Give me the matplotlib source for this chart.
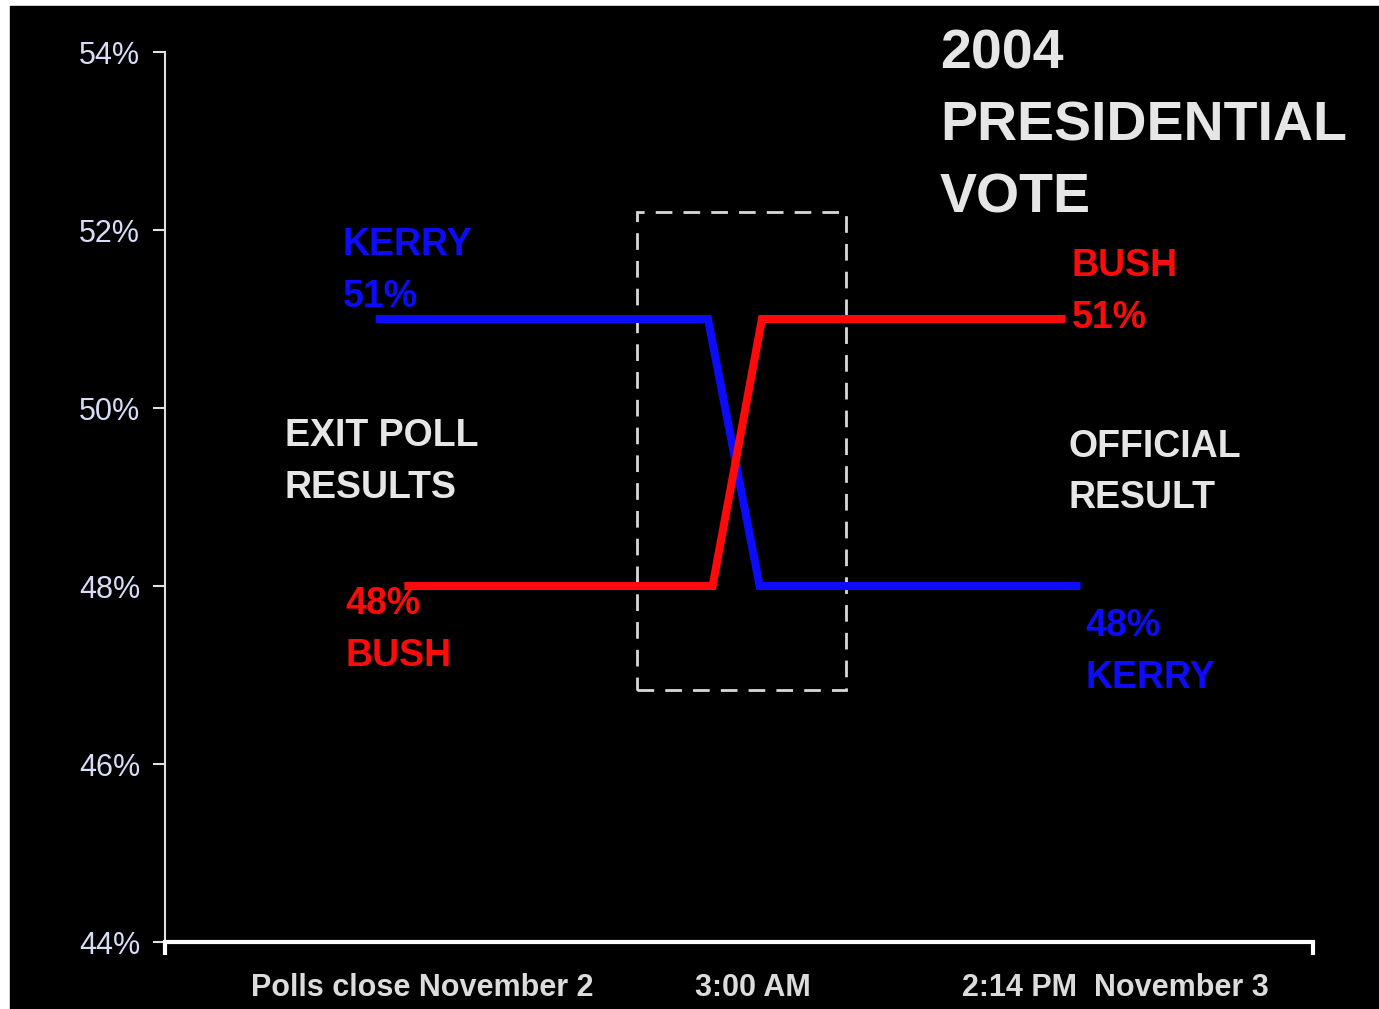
import matplotlib
matplotlib.use("Agg")
import matplotlib.pyplot as plt
from matplotlib.patches import Rectangle

plt.rcParams['font.family'] = ['Liberation Sans', 'DejaVu Sans']

# time axis: 0 = polls close, 100 = right end of the axis (arbitrary units)
kerry_x = [18.7, 47.3, 51.8, 79.4]
kerry_y = [51, 51, 48, 48]
bush_x = [21.2, 47.7, 52.0, 78.1]
bush_y = [48, 48, 51, 51]

yticks = [44, 46, 48, 50, 52, 54]
xlabel_pos = [22.4, 51.2, 82.8]
xlabels = ['Polls close November 2', '3:00 AM', '2:14 PM  November 3']

# dashed box around the 3:00 AM switch
box_x = [41.1, 59.3]
box_y = [46.83, 52.2]

BLUE = '#0c0cfa'
RED = '#ff0a0a'
GREY = '#e6e6e6'

fig = plt.figure(figsize=(13.79, 10.09), dpi=100, facecolor='white')
fig.patches.append(Rectangle((10 / 1379, 0), 1, 1 - 6 / 1009,
                             transform=fig.transFigure, color='black', zorder=-10))

ax = fig.add_axes([165 / 1379, 1 - 942 / 1009, 1148 / 1379, 890 / 1009])
ax.set_facecolor('none')
ax.set_xlim(0, 100)
ax.set_ylim(44, 54)

ax.plot(kerry_x, kerry_y, color=BLUE, lw=5.8, solid_joinstyle='miter', zorder=3)
ax.plot(bush_x, bush_y, color=RED, lw=5.8, solid_joinstyle='miter', zorder=3)

ax.add_patch(Rectangle((box_x[0], box_y[0]), box_x[1] - box_x[0], box_y[1] - box_y[0],
                       fill=False, ec='#d8d8d8', lw=2, ls=(0, (6, 4)), zorder=2))

# spines / ticks
for s in ['top', 'right']:
    ax.spines[s].set_visible(False)
ax.spines['left'].set_color('#e0e0e0')
ax.spines['left'].set_linewidth(1.5)
ax.spines['bottom'].set_color('white')
ax.spines['bottom'].set_linewidth(3)

ax.set_yticks(yticks)
ax.set_yticklabels([f'{v}%' for v in yticks], fontsize=22, color='#d8dcf6')
ax.tick_params(axis='y', length=9, width=1.5, color='#e0e0e0', pad=9)

ax.set_xticks([0, 100])
ax.set_xticklabels(['', ''])
ax.tick_params(axis='x', which='major', length=9, width=3, color='white', direction='out')
ax.set_xticks(xlabel_pos, minor=True)
ax.set_xticklabels(xlabels, minor=True, fontsize=22, fontweight='bold', color='#dcdcdc')
ax.tick_params(axis='x', which='minor', length=0, pad=22)

# annotations: (text, x, y, color, size)
labels = [
    ('2004', 67.5, 53.97, GREY, 40),
    ('PRESIDENTIAL', 67.5, 53.16, GREY, 40),
    ('VOTE', 67.5, 52.35, GREY, 40),
    ('KERRY', 15.5, 51.83, BLUE, 27),
    ('51%', 15.5, 51.25, BLUE, 27),
    ('BUSH', 79.0, 51.60, RED, 27),
    ('51%', 79.0, 51.01, RED, 27),
    ('48%', 15.7, 47.80, RED, 27),
    ('BUSH', 15.7, 47.21, RED, 27),
    ('48%', 80.2, 47.55, BLUE, 27),
    ('KERRY', 80.2, 46.97, BLUE, 27),
    ('EXIT POLL', 10.45, 49.69, GREY, 27),
    ('RESULTS', 10.45, 49.10, GREY, 27),
    ('OFFICIAL', 78.7, 49.56, GREY, 27),
    ('RESULT', 78.7, 48.99, GREY, 27),
]
for txt, x, y, c, fs in labels:
    ax.text(x, y, txt, color=c, fontsize=fs, fontweight='bold',
            ha='left', va='center', zorder=2, clip_on=False)

fig.savefig('out.png', dpi=100, facecolor='white')
